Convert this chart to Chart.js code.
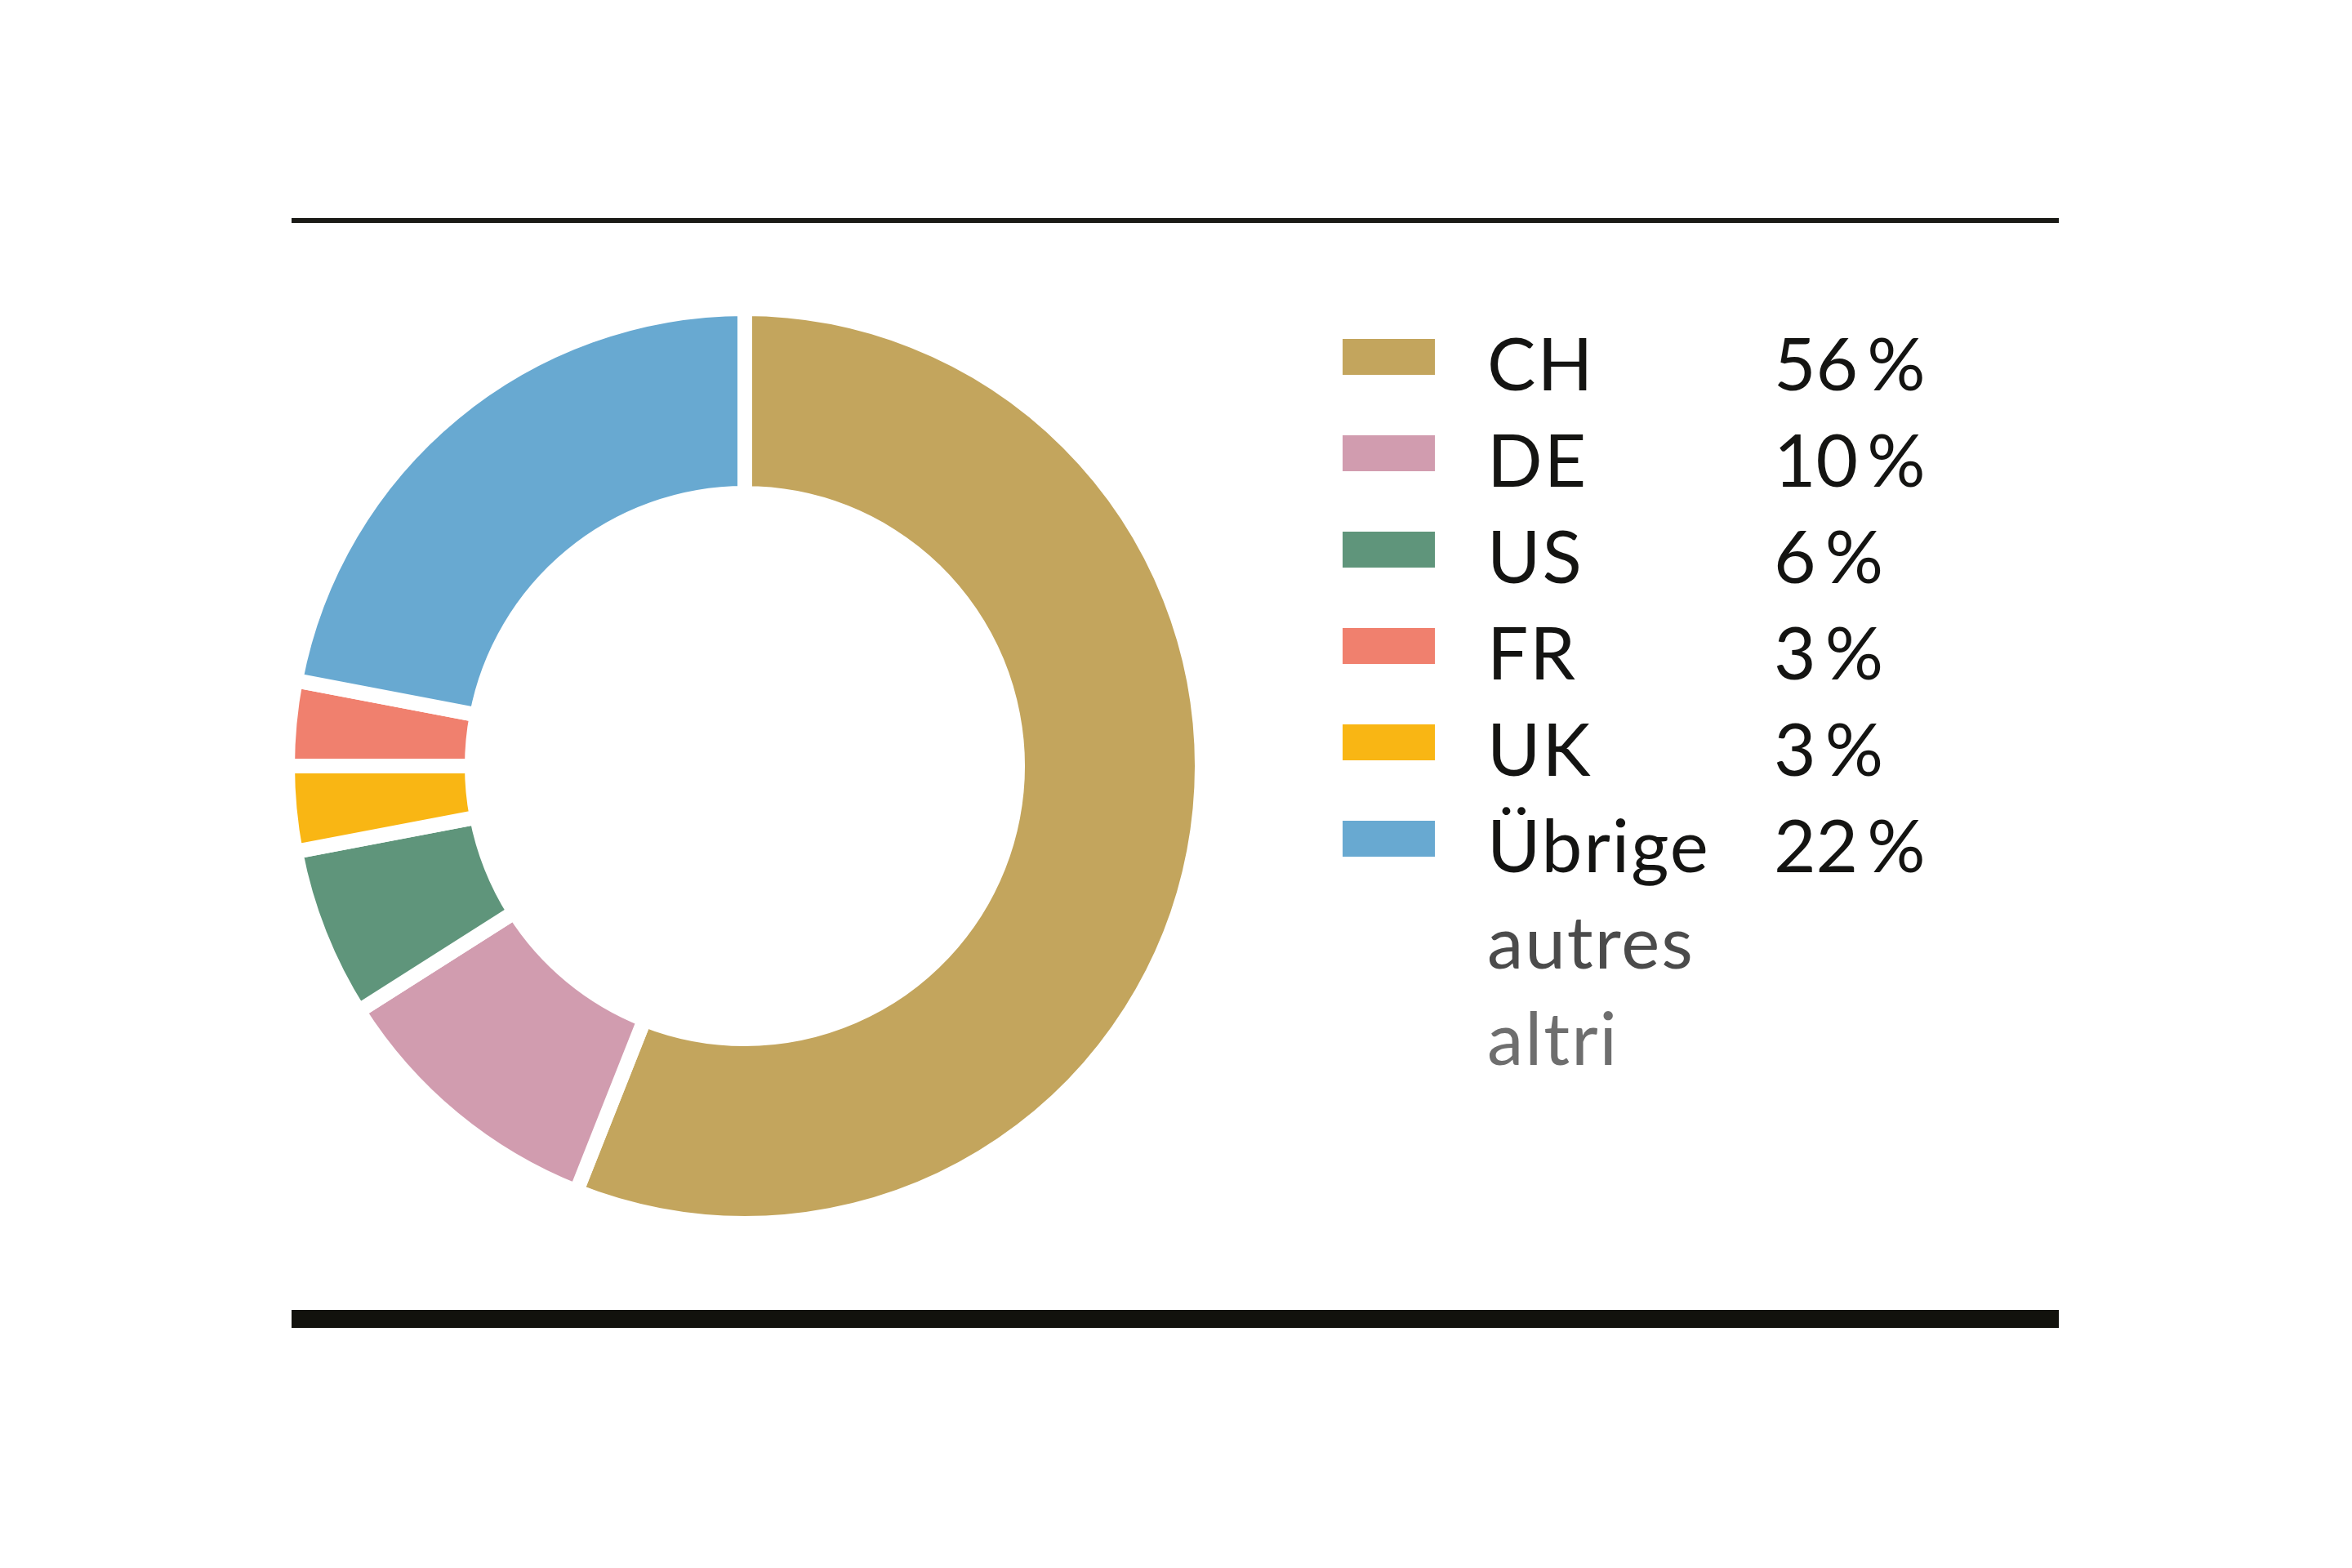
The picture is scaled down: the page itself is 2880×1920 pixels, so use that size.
<!DOCTYPE html>
<html>
<head>
<meta charset="utf-8">
<script src="https://cdn.jsdelivr.net/npm/chart.js@4/dist/chart.umd.min.js"></script>
<style>
  html, body { margin:0; padding:0; background:#ffffff; }
  body { width:2880px; height:1920px; position:relative; overflow:hidden; font-family: Lato, "Noto Sans", sans-serif; }
  .rule { position:absolute; left:357px; width:2164px; }
  #topRule { top:267px; height:6px; background:#1a1a16; }
  #bottomRule { top:1604px; height:22px; background:#12120d; }
  #chartBox { position:absolute; left:312px; top:338px; width:1200px; height:1200px; }
  #legend { position:absolute; left:0; top:385px; width:2880px; }
  .row { position:absolute; left:0; height:118px; width:2880px; line-height:118px; font-size:89px; color:#141412; white-space:nowrap; }
  .sw { position:absolute; left:1644px; top:30px; width:113px; height:44px; }
  .lab { position:absolute; left:1821px; top:0; letter-spacing:2px; }
  .pct { position:absolute; left:2172px; top:0; }
  .pct .sign { margin-left:11px; }
</style>
</head>
<body>
<div class="rule" id="topRule"></div>
<div id="chartBox"><canvas id="c"></canvas></div>
<div id="legend"></div>
<div class="rule" id="bottomRule"></div>
<script>
// Slice order as drawn clockwise from 12 o'clock
const pieLabels = ['CH', 'DE', 'US', 'UK', 'FR', 'Übrige'];
const pieValues = [56, 10, 6, 3, 3, 22];
const pieColors = ['#c3a55d', '#d19caf', '#5f957b', '#f9b614', '#f0806e', '#68a9d1'];

// Legend order as listed on the right
const legendOrder = ['CH', 'DE', 'US', 'FR', 'UK', 'Übrige'];
const extraLines = ['autres', 'altri'];
const extraColors = ['#4b4b4b', '#6e6e6e'];

const ctx = document.getElementById('c');
new Chart(ctx, {
  type: 'doughnut',
  data: {
    labels: pieLabels,
    datasets: [{
      data: pieValues,
      backgroundColor: pieColors,
      borderColor: '#ffffff',
      borderWidth: 18,
      borderJoinStyle: 'miter',
      hoverOffset: 0
    }]
  },
  options: {
    responsive: true,
    maintainAspectRatio: false,
    animation: false,
    radius: 560,
    cutout: '59.64%',
    rotation: 0,
    layout: { padding: 0 },
    plugins: { legend: { display: false }, tooltip: { enabled: false } },
    events: []
  }
});

const legend = document.getElementById('legend');
const rowPitch = 118;
legendOrder.forEach((name, i) => {
  const idx = pieLabels.indexOf(name);
  const row = document.createElement('div');
  row.className = 'row';
  row.style.top = (i * rowPitch) + 'px';
  const sw = document.createElement('div');
  sw.className = 'sw';
  sw.style.background = pieColors[idx];
  const lab = document.createElement('div');
  lab.className = 'lab';
  lab.textContent = name;
  const pct = document.createElement('div');
  pct.className = 'pct';
  pct.appendChild(document.createTextNode(String(pieValues[idx])));
  const sign = document.createElement('span');
  sign.className = 'sign';
  sign.textContent = '%';
  pct.appendChild(sign);
  row.appendChild(sw); row.appendChild(lab); row.appendChild(pct);
  legend.appendChild(row);
});
extraLines.forEach((t, j) => {
  const row = document.createElement('div');
  row.className = 'row';
  row.style.top = ((legendOrder.length + j) * rowPitch) + 'px';
  const lab = document.createElement('div');
  lab.className = 'lab';
  lab.textContent = t;
  lab.style.color = extraColors[j];
  row.appendChild(lab);
  legend.appendChild(row);
});
</script>
</body>
</html>
